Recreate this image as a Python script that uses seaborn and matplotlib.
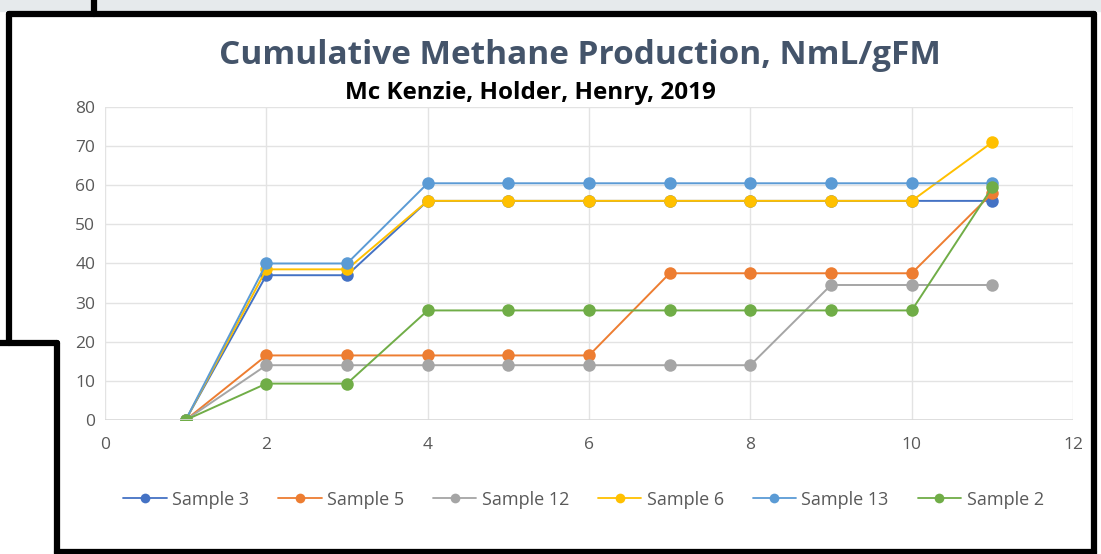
import pandas as pd
import seaborn as sns
import matplotlib.pyplot as plt
from matplotlib.lines import Line2D

# Data
days = [1, 2, 3, 4, 5, 6, 7, 8, 9, 10, 11]
sample_3 = [0, 37, 37, 56, 56, 56, 56, 56, 56, 56, 56]
sample_5 = [0, 16.5, 16.5, 16.5, 16.5, 16.5, 37.5, 37.5, 37.5, 37.5, 58]
sample_12 = [0, 14, 14, 14, 14, 14, 14, 14, 34.5, 34.5, 34.5]
sample_6 = [0, 38.5, 38.5, 56, 56, 56, 56, 56, 56, 56, 71]
sample_13 = [0, 40, 40, 60.5, 60.5, 60.5, 60.5, 60.5, 60.5, 60.5, 60.5]
sample_2 = [0, 9.3, 9.3, 28, 28, 28, 28, 28, 28, 28, 59.5]

series_names = ['Sample 3', 'Sample 5', 'Sample 12', 'Sample 6', 'Sample 13', 'Sample 2']
series_vals = [sample_3, sample_5, sample_12, sample_6, sample_13, sample_2]
colors = ['#4472C4', '#ED7D31', '#A5A5A5', '#FFC000', '#5B9BD5', '#70AD47']

x_ticks = [0, 2, 4, 6, 8, 10, 12]
y_ticks = [0, 10, 20, 30, 40, 50, 60, 70, 80]

rows = []
for name, vals in zip(series_names, series_vals):
    for d, v in zip(days, vals):
        rows.append({'day': d, 'value': v, 'series': name})
df = pd.DataFrame(rows)

sns.set_theme(style='white')
plt.rcParams['font.family'] = ['Open Sans', 'DejaVu Sans']

fig = plt.figure(figsize=(11.01, 5.54), dpi=100)
fig.patch.set_facecolor('white')
ax = fig.add_axes([0.0954, 0.2419, 0.8792, 0.565])

sns.lineplot(data=df, x='day', y='value', hue='series', hue_order=series_names,
             palette=colors, marker='o', markersize=9, markeredgewidth=0,
             linewidth=1.4, ax=ax, legend=False)

ax.set_xlim(0, 12)
ax.set_ylim(0, 80)
ax.set_xticks(x_ticks)
ax.set_yticks(y_ticks)
ax.grid(True, color='#E3E3E3', linewidth=1)
for s in ax.spines.values():
    s.set_visible(False)
ax.axhline(0, color='#D9D9D9', linewidth=1.2)
ax.tick_params(colors='#595959', labelsize=12.5, length=0)
ax.tick_params(axis='y', pad=7)
ax.tick_params(axis='x', pad=12)
ax.set_xlabel('')
ax.set_ylabel('')

fig.text(0.527, 0.90, 'Cumulative Methane Production, NmL/gFM', ha='center', va='center',
         fontsize=24, fontweight='bold', color='#44546A')
fig.text(0.4815, 0.832, 'Mc Kenzie, Holder, Henry, 2019', ha='center', va='center',
         fontsize=17.5, fontweight='bold', color='black')

handles = [Line2D([0], [0], color=c, marker='o', markersize=7, markeredgewidth=0, linewidth=1.3)
           for c in colors]
fig.legend(handles, series_names, loc='center', bbox_to_anchor=(0.53, 0.098), ncol=6,
           frameon=False, fontsize=13, labelcolor='#595959', handlelength=2.4,
           columnspacing=1.6, handletextpad=0.3)

# spreadsheet strip and black frame of the screenshot
fig.add_artist(plt.Rectangle((0, 0.98), 1, 0.02, transform=fig.transFigure,
                             color='#E6EAEC', zorder=0))
frame = [([0.008, 0.008], [0.38, 0.975]),
         ([0.008, 0.994], [0.975, 0.975]),
         ([0.994, 0.994], [0.975, 0.0]),
         ([0.052, 0.994], [0.004, 0.004]),
         ([0.0, 0.052], [0.38, 0.38]),
         ([0.052, 0.052], [0.38, 0.0]),
         ([0.085, 0.085], [0.975, 1.0])]
for xs, ys in frame:
    fig.add_artist(Line2D(xs, ys, transform=fig.transFigure, color='black', linewidth=4.5))

fig.savefig('out.png', dpi=100)
